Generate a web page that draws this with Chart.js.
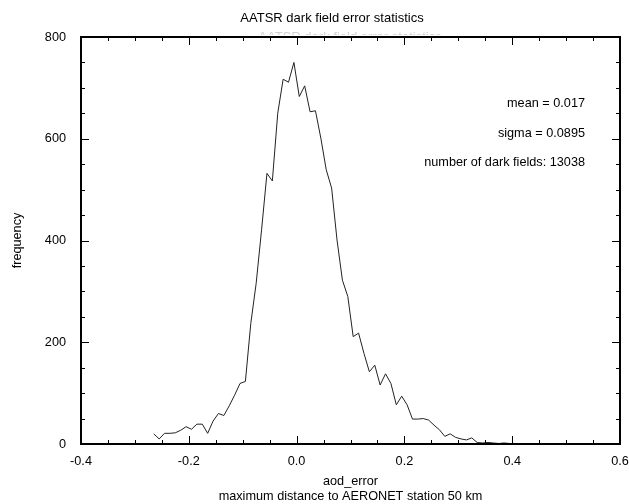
<!DOCTYPE html>
<html>
<head>
<meta charset="utf-8">
<script src="https://cdn.jsdelivr.net/npm/chart.js@4.4.1/dist/chart.umd.min.js"></script>
<style>
  html, body { margin: 0; padding: 0; background: #fff; }
  #wrap { width: 629px; height: 504px; }
</style>
</head>
<body>
<div id="wrap"><canvas id="hist" width="629" height="504"></canvas></div>
<script>
// bin centres of aod_error (bin width 0.01)
const binCenters = [
  -0.265, -0.255, -0.245, -0.235, -0.225, -0.215, -0.205, -0.195, -0.185, -0.175,
  -0.165, -0.155, -0.145, -0.135, -0.125, -0.115, -0.105, -0.095, -0.085, -0.075,
  -0.065, -0.055, -0.045, -0.035, -0.025, -0.015, -0.005, 0.005, 0.015, 0.025,
  0.035, 0.045, 0.055, 0.065, 0.075, 0.085, 0.095, 0.105, 0.115, 0.125,
  0.135, 0.145, 0.155, 0.165, 0.175, 0.185, 0.195, 0.205, 0.215, 0.225,
  0.235, 0.245, 0.255, 0.265, 0.275, 0.285, 0.295, 0.305, 0.315, 0.325,
  0.335, 0.345, 0.355, 0.365, 0.375, 0.385, 0.395, 0.405, 0.415, 0.425,
  0.435
];

// frequency per bin
const frequency = [
  20, 10, 21, 21, 22, 27, 34, 29, 39, 39,
  21, 45, 60, 56, 75, 96, 119, 123, 237, 316,
  421, 532, 517, 650, 717, 711, 750, 683, 704, 653,
  655, 601, 539, 503, 401, 322, 290, 211, 218, 178,
  142, 155, 116, 138, 119, 77, 94, 77, 49, 49,
  50, 47, 37, 28, 15, 20, 13, 10, 8, 12,
  3, 2, 3, 2, 1, 2, 1, 1, 0, 1,
  0
];

const xRange = [-0.4, 0.6];
const yRange = [0, 800];
const chartTitle = 'AATSR dark field error statistics';
const xTitle = ['aod_error', 'maximum distance to AERONET station 50 km'];
const yTitle = 'frequency';
const statsText = ['mean = 0.017', 'sigma = 0.0895', 'number of dark fields: 13038'];

const FONT = '"Liberation Sans", Arial, sans-serif';
const FSIZE = 12.7;

// frame, inward ticks, titles and the stats box
const decorPlugin = {
    id: 'decor',
    afterDraw(chart) {
        const ctx = chart.ctx;
        const area = chart.chartArea;
        const xs = chart.scales.x;
        const ys = chart.scales.y;

        ctx.save();
        ctx.strokeStyle = '#000';

        // inward tick marks on all four sides
        ctx.lineWidth = 1;
        ctx.beginPath();
        for (let i = 0; i <= 20; i++) {
            const v = xRange[0] + i * 0.05;
            const px = Math.round(xs.getPixelForValue(v)) + 0.5;
            const len = (i % 4 === 0) ? 8 : 4;
            ctx.moveTo(px, area.bottom); ctx.lineTo(px, area.bottom - len);
            ctx.moveTo(px, area.top); ctx.lineTo(px, area.top + len);
        }
        for (let i = 0; i <= 16; i++) {
            const v = yRange[0] + i * 50;
            const py = Math.round(ys.getPixelForValue(v)) + 0.5;
            const len = (i % 4 === 0) ? 8 : 4;
            ctx.moveTo(area.left, py); ctx.lineTo(area.left + len, py);
            ctx.moveTo(area.right, py); ctx.lineTo(area.right - len, py);
        }
        ctx.stroke();

        // frame
        ctx.lineWidth = 2;
        ctx.strokeRect(area.left, area.top, area.right - area.left, area.bottom - area.top);

        // title
        ctx.fillStyle = '#000';
        ctx.font = '13px ' + FONT;
        ctx.textAlign = 'center';
        ctx.textBaseline = 'middle';
        ctx.fillText(chartTitle, 332, 18);

        // faint clipped copy of the title above the frame
        ctx.save();
        ctx.beginPath();
        ctx.rect(0, 30, chart.width, 5);
        ctx.clip();
        ctx.fillStyle = '#d0d0d0';
        ctx.font = '13px ' + FONT;
        ctx.fillText(chartTitle, 350, 37);
        ctx.restore();

        // axis titles
        ctx.fillStyle = '#000';
        ctx.font = FSIZE + 'px ' + FONT;
        ctx.fillText(xTitle[0], (area.left + area.right) / 2, 481);
        ctx.fillText(xTitle[1], (area.left + area.right) / 2, 496);

        ctx.save();
        ctx.translate(17, (area.top + area.bottom) / 2);
        ctx.rotate(-Math.PI / 2);
        ctx.fillText(yTitle, 0, 0);
        ctx.restore();

        // stats
        ctx.textAlign = 'right';
        ctx.fillText(statsText[0], 585, 103);
        ctx.fillText(statsText[1], 585, 133);
        ctx.fillText(statsText[2], 585, 162);

        ctx.restore();
    }
};

const ctx = document.getElementById('hist').getContext('2d');
new Chart(ctx, {
    type: 'line',
    data: {
        datasets: [{
            data: binCenters.map((x, i) => ({ x: x, y: frequency[i] })),
            borderColor: '#222',
            borderWidth: 1,
            pointRadius: 0,
            tension: 0,
            fill: false
        }]
    },
    options: {
        responsive: false,
        animation: false,
        devicePixelRatio: 1,
        layout: { padding: { top: 37, right: 9, left: 0, bottom: 0 } },
        plugins: {
            legend: { display: false },
            title: { display: false },
            tooltip: { enabled: false }
        },
        scales: {
            x: {
                type: 'linear',
                min: xRange[0],
                max: xRange[1],
                grid: { display: false, drawTicks: false },
                border: { display: false },
                ticks: {
                    stepSize: 0.2,
                    padding: 10,
                    color: '#000',
                    font: { family: FONT, size: FSIZE },
                    maxRotation: 0,
                    callback: v => v.toFixed(1)
                },
                afterFit: s => {
                    s.height = 60;
                    s.paddingLeft = 0;
                    s.paddingRight = 0;
                }
            },
            y: {
                min: yRange[0],
                max: yRange[1],
                grid: { display: false, drawTicks: false },
                border: { display: false },
                ticks: {
                    stepSize: 200,
                    padding: 15,
                    color: '#000',
                    font: { family: FONT, size: FSIZE }
                },
                afterFit: s => {
                    s.width = 81;
                    s.paddingTop = 0;
                    s.paddingBottom = 0;
                }
            }
        }
    },
    plugins: [decorPlugin]
});
</script>
</body>
</html>
